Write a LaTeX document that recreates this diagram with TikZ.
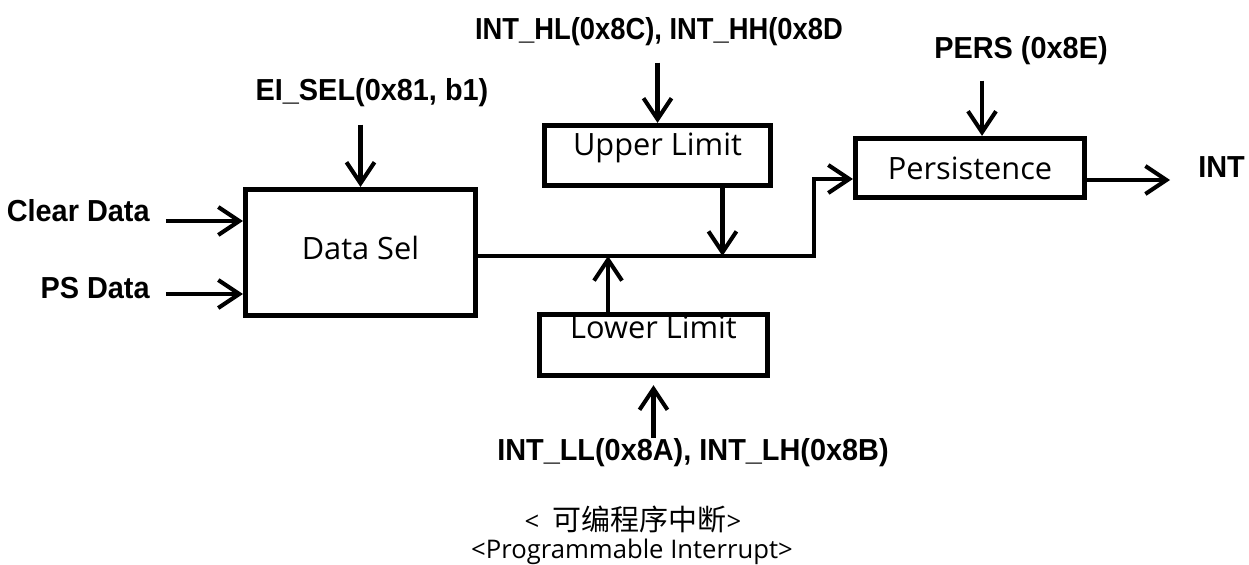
\documentclass[tikz,border=0pt]{standalone}
\usepackage{fontspec}
\setmainfont{Open Sans}
\newfontfamily\lblfont[FakeStretch=0.95]{Liberation Sans}
\newfontfamily\narrowlblfont[FakeStretch=0.9]{Liberation Sans}
\newfontfamily\cjkfont{Noto Sans CJK SC}
\usepackage{tikz}
\usetikzlibrary{arrows.meta,positioning}

\begin{document}
\begin{tikzpicture}[x=0.02cm,y=-0.02cm,
  box/.style={draw,line width=3pt,inner sep=0pt,font=\fontsize{17.5}{20}\selectfont},
  lbl/.style={inner sep=0pt,font=\lblfont\bfseries\fontsize{17.3}{20}\selectfont},
  captxt/.style={inner sep=0pt,font=\fontsize{14.6}{17}\selectfont},
  arr/.style={-{Straight Barb[length=0.42cm,width=0.56cm]},line width=2.3pt}]
  \useasboundingbox (0,0) rectangle (1249,565);
  % blocks
  \node[box,minimum width=4.6cm,minimum height=2.52cm,text height=0.5cm,text depth=0.24cm] (dsel) at (360.5,252.5) {Data Sel};
  \node[box,minimum width=4.52cm,minimum height=1.2cm,text height=0.5cm,text depth=0.5cm] (up) at (657.5,155.5) {Upper Limit};
  \node[box,minimum width=4.56cm,minimum height=1.22cm,text height=0.4cm,text depth=0.68cm] (lo) at (653.5,345) {Lower Limit};
  \node[box,minimum width=4.58cm,minimum height=1.18cm,text height=0.5cm,text depth=0.02cm] (pers) at (970,168) {Persistence};
  % register labels
  \node[lbl,anchor=base east] (clr) at (150,221) {Clear Data};
  \node[lbl,anchor=base east] (psd) at (150,298) {PS Data};
  \node[lbl,anchor=base] (eisel) at (372,100) {EI\_SEL(0x81, b1)};
  \node[lbl,anchor=base,font=\narrowlblfont\bfseries\fontsize{17.3}{20}\selectfont] (hilim) at (659,39) {INT\_HL(0x8C), INT\_HH(0x8D};
  \node[lbl,anchor=base] (lolim) at (693,460) {INT\_LL(0x8A), INT\_LH(0x8B)};
  \node[lbl,anchor=base] (perreg) at (1021,58) {PERS (0x8E)};
  \node[lbl,anchor=base west] (intout) at (1198,177) {INT};
  % caption
  \node[captxt,anchor=base] (capcn) at (633,530) {<\ \ {\cjkfont\fontsize{16.5}{17}\selectfont 可编程序中断}>};
  \node[captxt,anchor=base] (capen) at (632,558) {<Programmable Interrupt>};
  % signal lines
  \coordinate (mid) at ([yshift=-0.07cm]dsel.east);
  \draw[arr,shorten <=0.32cm] (clr.base east) -- (clr.base east -| dsel.west);
  \draw[arr,shorten <=0.32cm] ([yshift=0.08cm]psd.base east) -- ([yshift=0.08cm]psd.base east -| dsel.west);
  \draw[arr,shorten <=0.36cm] (dsel.north |- eisel.south) -- (dsel.north);
  \draw[arr,shorten <=0.34cm] (up.north |- hilim.south) -- (up.north);
  \draw[arr] ([xshift=1.3cm]up.south) -- ([xshift=1.3cm]up.south |- mid);
  \draw[arr] ([xshift=-0.91cm]lo.north) -- ([xshift=-0.91cm]lo.north |- mid);
  \draw[arr,shorten >=0.14cm] (lo.south |- lolim.north) -- (lo.south);
  \draw[arr] (mid) -| ([xshift=-0.77cm,yshift=-0.22cm]pers.west) -- ([yshift=-0.22cm]pers.west);
  \draw[arr,shorten <=0.32cm] ([xshift=0.24cm]pers.north |- perreg.south) -- ([xshift=0.24cm]pers.north);
  \draw[arr,shorten >=0.56cm] ([yshift=-0.24cm]pers.east) -- ([yshift=-0.24cm]pers.east -| intout.west);
\end{tikzpicture}
\end{document}
